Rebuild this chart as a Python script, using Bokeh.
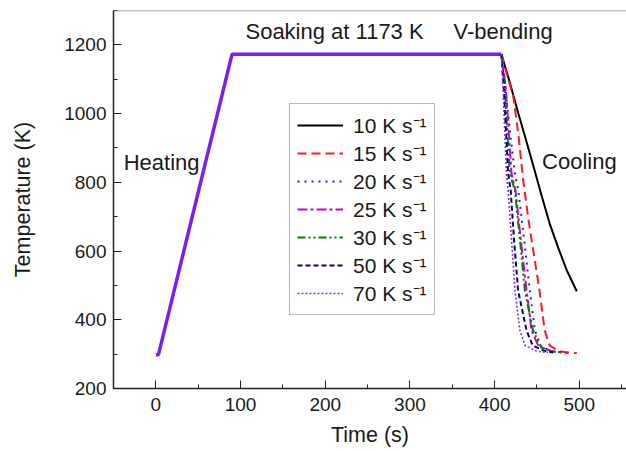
from bokeh.plotting import figure
from bokeh.models import Legend, LegendItem, SingleIntervalTicker, Span, Range1d, Label
from bokeh.embed import file_html
from bokeh.resources import INLINE

# Shared heating + soaking profile
heat_time = [0, 3, 90, 408]
heat_temp = [298, 298, 1173, 1173]

# Cooling curves
rate_labels = ["10 K s⁻¹", "15 K s⁻¹", "20 K s⁻¹", "25 K s⁻¹", "30 K s⁻¹", "50 K s⁻¹", "70 K s⁻¹"]
t10 = [408, 418, 428, 438, 446, 455, 465, 475, 485, 497]
T10 = [1173, 1090, 1000, 915, 845, 765, 680, 610, 545, 483]
t15 = [408, 415, 422, 428, 434, 440, 447, 453, 459, 465, 475, 485, 497]
T15 = [1173, 1110, 1050, 940, 800, 690, 580, 485, 370, 325, 310, 305, 303]
t20 = [408, 412, 418, 424, 428, 435, 441.6, 447.5, 455, 470, 486]
T20 = [1173, 1090, 950, 824, 776, 630, 485, 369, 320, 308, 304]
t25 = [408, 413, 420, 424.7, 431, 437.7, 443.6, 452, 468, 486]
T25 = [1173, 1080, 824, 776, 630, 485, 369, 322, 308, 304]
t30 = [408, 412, 418, 424, 430, 435.7, 445.3, 455, 468, 479]
T30 = [1173, 1070, 824, 776, 630, 485, 369, 320, 308, 305]
t50 = [408, 411, 416, 419, 423, 427.7, 437.7, 445, 458, 469]
T50 = [1173, 1066, 824, 776, 630, 485, 369, 325, 310, 305]
t70 = [408, 410, 414, 416, 420, 424, 429.8, 436, 450, 463]
T70 = [1173, 1066, 824, 776, 630, 485, 369, 325, 308, 305]

colors = ["#000000", "#ff1a1a", "#2222dd", "#cc00cc", "#008000", "#000080", "#8a2be2"]
dashes = ["solid", "9 5", "2 5", "10 3 3 3", "8 3 2 3 2 3", "5 3", "2 2"]
widths = [2, 2, 2, 2, 2, 2, 1.6]
series_t = [t10, t15, t20, t25, t30, t50, t70]
series_T = [T10, T15, T20, T25, T30, T50, T70]

FONT = "Liberation Sans"
TXT = "#1a1a1a"

p = figure(width=626, height=451, output_backend="svg", toolbar_location=None,
           x_range=Range1d(-50, 555.7), y_range=Range1d(200, 1300),
           min_border_left=113, min_border_right=0, min_border_top=10, min_border_bottom=63)
p.outline_line_color = None
p.xgrid.visible = False
p.ygrid.visible = False
p.background_fill_color = "white"
p.border_fill_color = "white"

p.add_layout(Span(location=1300, dimension="width", line_color="#888888", line_width=1.5))

# heating / soaking
p.line(heat_time, heat_temp, line_color="#7a1ff0", line_width=3.5)

items = []
for lab, t, T, c, d, w in zip(rate_labels, series_t, series_T, colors, dashes, widths):
    r = p.line(t, T, line_color=c, line_dash=d, line_width=w)
    items.append(LegendItem(label=lab, renderers=[r]))

legend = Legend(items=items, location=(176, 73))
legend.label_text_font = FONT
legend.label_text_font_size = "21px"
legend.label_text_color = TXT
legend.glyph_width = 46
legend.glyph_height = 20
legend.label_height = 20
legend.spacing = 0
legend.padding = 7
legend.margin = 0
legend.label_standoff = 10
legend.border_line_color = "#777777"
legend.border_line_width = 1.5
legend.background_fill_alpha = 1
p.add_layout(legend)

for ax, interval in ((p.xaxis[0], 100), (p.yaxis[0], 200)):
    ax.ticker = SingleIntervalTicker(interval=interval, num_minor_ticks=2)
    ax.major_tick_in = 8
    ax.major_tick_out = 0
    ax.minor_tick_in = 4
    ax.minor_tick_out = 0
    ax.axis_line_color = "#222222"
    ax.major_tick_line_color = "#222222"
    ax.minor_tick_line_color = "#222222"
    ax.axis_line_width = 1.5
    ax.major_label_text_font = FONT
    ax.major_label_text_font_size = "19px"
    ax.major_label_text_color = TXT
    ax.axis_label_text_font = FONT
    ax.axis_label_text_font_size = "21.5px"
    ax.axis_label_text_font_style = "normal"
    ax.axis_label_text_color = TXT

p.xaxis.axis_label = "Time (s)"
p.yaxis.axis_label = "Temperature (K)"
p.xaxis.major_label_standoff = 9
p.xaxis.axis_label_standoff = 9
p.yaxis.major_label_standoff = 7
p.yaxis.axis_label_standoff = 26

for txt, x, y, align in (("Heating", -38, 857, "left"),
                         ("Soaking at 1173 K", 211, 1238, "center"),
                         ("V-bending", 410, 1238, "center"),
                         ("Cooling", 456, 860, "left")):
    p.add_layout(Label(x=x, y=y, text=txt, text_font=FONT, text_font_size="22px",
                       text_color=TXT, text_align=align, text_baseline="middle"))

open("out.html", "w").write(file_html(p, INLINE))
